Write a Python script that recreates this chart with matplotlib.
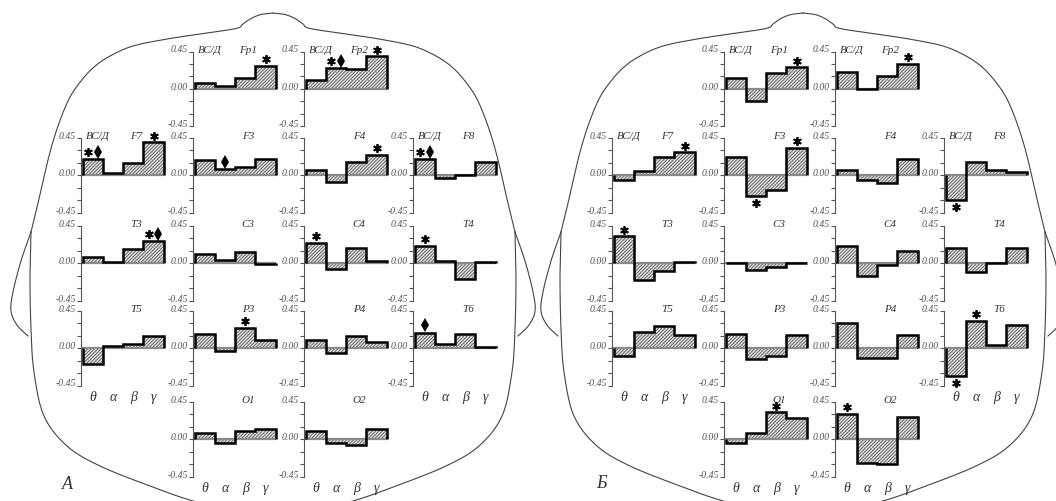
import numpy as np
import matplotlib
matplotlib.use("Agg")
import matplotlib.pyplot as plt

# ---------------- data ----------------
bands = ["θ", "α", "β", "γ"]

# condition A
a_Fp1 = [0.07, 0.03, 0.13, 0.28]
a_Fp2 = [0.10, 0.25, 0.24, 0.39]
a_F7 = [0.20, 0.03, 0.15, 0.40]
a_F3 = [0.19, 0.07, 0.10, 0.20]
a_F4 = [0.06, -0.08, 0.155, 0.25]
a_F8 = [0.20, -0.03, 0.00, 0.16]
a_T3 = [0.07, 0.01, 0.17, 0.27]
a_C3 = [0.11, 0.04, 0.13, -0.01]
a_C4 = [0.245, -0.065, 0.19, 0.03]
a_T4 = [0.21, 0.03, -0.195, 0.02]
a_T5 = [-0.19, 0.03, 0.05, 0.145]
a_P3 = [0.175, -0.035, 0.25, 0.105]
a_P4 = [0.10, -0.055, 0.145, 0.075]
a_T6 = [0.19, 0.05, 0.175, 0.01]
a_O1 = [0.08, -0.05, 0.10, 0.12]
a_O2 = [0.10, -0.05, -0.075, 0.12]

# condition Б
b_Fp1 = [0.135, -0.15, 0.195, 0.26]
b_Fp2 = [0.20, 0.00, 0.16, 0.30]
b_F7 = [-0.06, 0.05, 0.22, 0.275]
b_F3 = [0.22, -0.25, -0.18, 0.335]
b_F4 = [0.06, -0.06, -0.09, 0.195]
b_F8 = [-0.30, 0.155, 0.065, 0.045]
b_T3 = [0.325, -0.20, -0.09, 0.015]
b_C3 = [0.00, -0.08, -0.04, 0.00]
b_C4 = [0.21, -0.155, -0.02, 0.15]
b_T4 = [0.18, -0.11, 0.00, 0.18]
b_T5 = [-0.09, 0.195, 0.27, 0.16]
b_P3 = [0.17, -0.13, -0.09, 0.16]
b_P4 = [0.30, -0.12, -0.12, 0.165]
b_T6 = [-0.34, 0.335, 0.045, 0.275]
b_O1 = [-0.05, 0.08, 0.325, 0.255]
b_O2 = [0.31, -0.29, -0.295, 0.27]

# significance marks: (electrode, band index, symbols)
marks_A = [("Fp1", 3, "*"), ("Fp2", 1, "*♦"), ("Fp2", 3, "*"),
           ("F7", 0, "*♦"), ("F7", 3, "*"), ("F3", 1, "♦"), ("F4", 3, "*"),
           ("F8", 0, "*♦"), ("T3", 3, "*♦"), ("C4", 0, "*"), ("T4", 0, "*"),
           ("P3", 2, "*"), ("T6", 0, "♦")]
marks_B = [("Fp1", 3, "*"), ("Fp2", 3, "*"), ("F7", 3, "*"),
           ("F3", 1, "*"), ("F3", 3, "*"), ("F8", 0, "*"), ("T3", 0, "*"),
           ("T6", 0, "*"), ("T6", 1, "*"), ("O1", 2, "*"), ("O2", 0, "*")]

vals_A = {"Fp1": a_Fp1, "Fp2": a_Fp2, "F7": a_F7, "F3": a_F3, "F4": a_F4, "F8": a_F8,
          "T3": a_T3, "C3": a_C3, "C4": a_C4, "T4": a_T4, "T5": a_T5, "P3": a_P3,
          "P4": a_P4, "T6": a_T6, "O1": a_O1, "O2": a_O2}
vals_B = {"Fp1": b_Fp1, "Fp2": b_Fp2, "F7": b_F7, "F3": b_F3, "F4": b_F4, "F8": b_F8,
          "T3": b_T3, "C3": b_C3, "C4": b_C4, "T4": b_T4, "T5": b_T5, "P3": b_P3,
          "P4": b_P4, "T6": b_T6, "O1": b_O1, "O2": b_O2}

# ---------------- layout ----------------
W, H = 1056, 502
grid = {"Fp1": (0, 1), "Fp2": (0, 2), "F7": (1, 0), "F3": (1, 1), "F4": (1, 2), "F8": (1, 3),
        "T3": (2, 0), "C3": (2, 1), "C4": (2, 2), "T4": (2, 3), "T5": (3, 0), "P3": (3, 1),
        "P4": (3, 2), "T6": (3, 3), "O1": (4, 1), "O2": (4, 2)}
row_top = [52.5, 139, 227, 312, 403]
row_h = 74.5
col_x = [81, 193, 304, 413]
panel_w = 86
half_shift = 531
head_cx = [273, 803]
with_vsd = {"Fp1", "Fp2", "F7", "F8"}
bottom_row = {0: 3, 1: 4, 2: 4, 3: 3}

SERIF = "Liberation Serif"
GRAY = "#555555"
plt.rcParams["hatch.linewidth"] = 0.7

fig = plt.figure(figsize=(W / 100, H / 100), dpi=100)
bg = fig.add_axes([0, 0, 1, 1], zorder=0)
bg.set_xlim(0, W)
bg.set_ylim(H, 0)
bg.axis("off")


def smooth(pts, n=14):
    P = np.asarray(pts, float)
    P = np.vstack([P[0], P, P[-1]])
    out = []
    t = np.linspace(0, 1, n, endpoint=False)[:, None]
    for i in range(1, len(P) - 2):
        p0, p1, p2, p3 = P[i - 1], P[i], P[i + 1], P[i + 2]
        out.append(0.5 * (2 * p1 + (-p0 + p2) * t + (2 * p0 - 5 * p1 + 4 * p2 - p3) * t ** 2
                          + (-p0 + 3 * p1 - 3 * p2 + p3) * t ** 3))
    out.append(P[-2][None])
    return np.vstack(out)


# half outline (left side) relative to head centre
skull_half = [(0, 14), (-12, 15.5), (-22, 19.5), (-30, 25), (-37, 29.5), (-73, 35), (-106, 40),
              (-140, 47), (-163, 57), (-179, 68), (-192, 82), (-204, 100), (-215, 127),
              (-224, 157), (-234, 200), (-242, 233)]
lower_half = [(-242, 233), (-243, 280), (-242, 330), (-239, 373), (-229, 417), (-206, 447),
              (-173, 467), (-123, 487), (-80, 502), (-40, 511), (0, 514)]
ear_half = [(-242, 233), (-252, 262), (-260, 293), (-262, 312), (-256, 326), (-245, 337)]

lc = "#444444"
for cx in head_cx:
    for seg in (skull_half, lower_half, ear_half):
        s = smooth(seg)
        bg.plot(cx + s[:, 0], s[:, 1], color=lc, lw=0.8)
        bg.plot(cx - s[:, 0], s[:, 1], color=lc, lw=0.8)


def draw_panel(x_axis, y_top, vals, name, marks):
    ax = fig.add_axes([x_axis / W, 1 - (y_top + row_h) / H, panel_w / W, row_h / H], zorder=2)
    ax.patch.set_alpha(0)
    ax.set_xlim(-0.08, 4.16)
    ax.set_ylim(-0.45, 0.45)
    x = np.arange(len(bands))
    ax.bar(x, vals, width=1, align="edge", color="#e2e2e2", hatch="//////////",
           edgecolor="#666666", linewidth=0, zorder=1)
    ax.plot([-0.08, 4], [0, 0], color="#8a8a8a", lw=1.6, zorder=2, solid_capstyle="butt")
    ax.stairs(vals, np.arange(len(bands) + 1), baseline=0, color="black", lw=1.8, zorder=3)
    for (bi, sym) in marks:
        v = vals[bi]
        ym = v + 0.08 if v >= 0 else v - 0.085
        xc = bi + 0.5
        if len(sym) == 2:
            xs = [xc - 0.24, xc + 0.24]
        else:
            xs = [xc]
        for xx, ch in zip(xs, sym):
            if ch == "*":
                ax.plot([xx], [ym], marker=(6, 2, 0), ms=6.2, mew=1.3, color="black",
                        clip_on=False, zorder=4)
            else:
                ax.plot([xx], [ym + 0.005], marker="d", ms=7, color="black", mew=0,
                        clip_on=False, zorder=4)
    for sp in ("top", "right", "bottom"):
        ax.spines[sp].set_visible(False)
    ax.spines["left"].set_color(GRAY)
    ax.spines["left"].set_linewidth(0.8)
    ax.set_xticks([])
    ax.set_yticks([-0.45, 0.0, 0.45])
    ax.set_yticks([-0.3, -0.15, 0.15, 0.3], minor=True)
    ax.set_yticklabels(["-0.45", "0.00", "0.45"], fontfamily=SERIF, fontstyle="italic",
                       fontsize=7, color=GRAY)
    for lbl in ax.get_yticklabels():
        lbl.set_verticalalignment("baseline")
    ax.tick_params(axis="y", which="both", direction="out", length=3, width=0.8,
                   color=GRAY, pad=0.5)
    # titles
    bg.text(x_axis + 55, y_top - 2, name, ha="center", va="center", fontfamily=SERIF,
            fontstyle="italic", fontsize=8, color="#333333")
    if name in with_vsd:
        bg.text(x_axis + 5, y_top - 2, "ВС/Д", ha="left", va="center", fontfamily=SERIF,
                fontstyle="italic", fontsize=8, color="#333333")
    return ax


for shift, vals_d, marks in ((0, vals_A, marks_A), (half_shift, vals_B, marks_B)):
    for name, (r, c) in grid.items():
        mk = [(bi, s) for (e, bi, s) in marks if e == name]
        draw_panel(col_x[c] + shift, row_top[r], vals_d[name], name, mk)
    for c, r in bottom_row.items():
        yb = row_top[r] + row_h + 11.5
        for i, b in enumerate(bands):
            bg.text(col_x[c] + shift + 1.6 + 20.3 * (i + 0.5), yb, b, ha="center", va="center",
                    fontfamily=SERIF, fontstyle="italic", fontsize=10, color="#333333")

bg.text(67, 485, "А", ha="center", va="center", fontfamily=SERIF, fontstyle="italic",
        fontsize=13, color="#333333")
bg.text(602, 484, "Б", ha="center", va="center", fontfamily=SERIF, fontstyle="italic",
        fontsize=13, color="#333333")

fig.savefig("out.png", dpi=100)
